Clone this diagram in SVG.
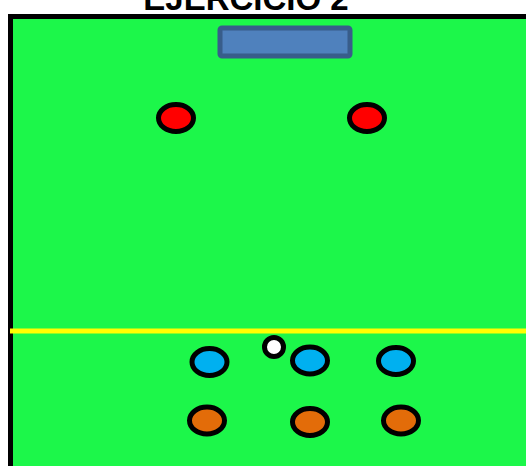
<svg xmlns="http://www.w3.org/2000/svg" width="526" height="466" viewBox="0 0 526 466">
<style>
.p{stroke:#000;stroke-width:5}
.red{fill:#FF0000}
.blue{fill:#00B0F0}
.orange{fill:#E36C09}
</style>
<rect width="526" height="466" fill="#fff"/>
<g id="field">
<rect x="10.5" y="16.5" width="540" height="480" fill="#1CF74A" stroke="#000" stroke-width="5"/>
</g>
<text x="246" y="10" text-anchor="middle" font-family="Liberation Sans, Arial, sans-serif" font-weight="bold" font-size="33">EJERCICIO 2</text>
<g id="goal">
<rect x="220" y="28" width="130" height="28" rx="2" fill="#4F81BD" stroke="#385D8A" stroke-width="5"/>
</g>
<g id="line">
<line x1="10" y1="331" x2="526" y2="331" stroke="#FFFF00" stroke-width="5"/>
</g>
<g id="red1"><ellipse class="p red" cx="176" cy="118" rx="17.5" ry="13.5"/></g>
<g id="red2"><ellipse class="p red" cx="367" cy="118" rx="17.5" ry="13.5"/></g>
<g id="ball"><circle class="p" fill="#fff" cx="274" cy="347" r="9.5"/></g>
<g id="blue1"><ellipse class="p blue" cx="209.5" cy="362" rx="17.5" ry="13.5"/></g>
<g id="blue2"><ellipse class="p blue" cx="310" cy="360.5" rx="17.5" ry="13.5"/></g>
<g id="blue3"><ellipse class="p blue" cx="396" cy="361" rx="17.5" ry="13.5"/></g>
<g id="orange1"><ellipse class="p orange" cx="207" cy="420.5" rx="17.5" ry="13.5"/></g>
<g id="orange2"><ellipse class="p orange" cx="310" cy="422" rx="17.5" ry="13.5"/></g>
<g id="orange3"><ellipse class="p orange" cx="401" cy="420.5" rx="17.5" ry="13.5"/></g>
<g id="connectors"></g>
</svg>
